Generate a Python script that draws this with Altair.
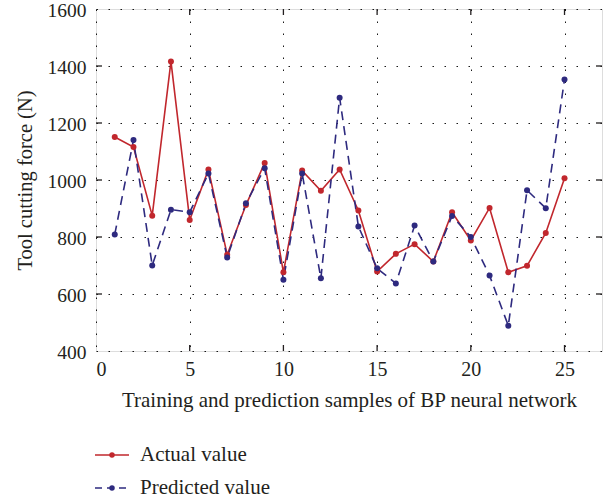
import altair as alt
import pandas as pd

samples = list(range(1, 26))
actual = [1151, 1116, 875, 1416, 860, 1037, 738, 912, 1060, 676,
          1033, 962, 1037, 893, 679, 741, 775, 714, 887, 788,
          902, 676, 699, 814, 1006]
predicted = [809, 1140, 700, 896, 887, 1023, 728, 918, 1041, 650,
             1023, 655, 1289, 837, 690, 637, 840, 714, 874, 800,
             665, 489, 964, 901, 1353]
series_names = ["Actual value", "Predicted value"]
x_ticks = [0, 5, 10, 15, 20, 25]
y_ticks = [400, 600, 800, 1000, 1200, 1400, 1600]

RED = "#c1272d"
BLUE = "#2e2a7f"
FONT = "Liberation Serif"
TXT = "#231f20"
W, H = 506, 342

df = pd.DataFrame({"sample": samples * 2,
                   "value": actual + predicted,
                   "series": [series_names[0]] * 25 + [series_names[1]] * 25})

xs = alt.Scale(domain=[0, 27], nice=False)
ys = alt.Scale(domain=[400, 1600], nice=False)

x_axis = alt.Axis(values=x_ticks, format="d", ticks=False, domain=False, grid=True,
                  gridDash=[1.5, 10.5], gridColor="#000", gridOpacity=0.9,
                  labelFontSize=20, labelFont=FONT, labelColor=TXT,
                  labelPadding=8, title="Training and prediction samples of BP neural network",
                  titleFont=FONT, titleFontSize=21, titleFontWeight="normal",
                  titleColor=TXT, titlePadding=10)
y_axis = alt.Axis(values=y_ticks, format="d", ticks=False, domain=False, grid=True,
                  gridDash=[1.5, 10.5], gridColor="#000", gridOpacity=0.9,
                  labelFontSize=19.5, labelFont=FONT, labelColor=TXT, labelOffset=1,
                  labelPadding=10, title="Tool cutting force (N)",
                  titleFont=FONT, titleFontSize=20.5, titleFontWeight="normal",
                  titleColor=TXT, titlePadding=12)

color = alt.Color("series:N", scale=alt.Scale(domain=series_names, range=[RED, BLUE]), legend=None)
X = alt.X("sample:Q", scale=xs, axis=x_axis)
Y = alt.Y("value:Q", scale=ys, axis=y_axis)

act = df[df.series == series_names[0]]
pre = df[df.series == series_names[1]]

line_act = alt.Chart(act).mark_line(strokeWidth=1.6).encode(x=X, y=Y, color=color)
line_pre = alt.Chart(pre).mark_line(strokeWidth=1.6, strokeDash=[9, 6]).encode(x=X, y=Y, color=color)
pts = alt.Chart(df).mark_circle(size=36, opacity=1).encode(x=X, y=Y, color=color)

# inward ticks
xt = pd.DataFrame({"sample": x_ticks[1:]})
yt = pd.DataFrame({"value": y_ticks[1:-1]})
tick_style = dict(color=TXT, strokeWidth=1.3)
tb = alt.Chart(xt).mark_rule(**tick_style).encode(x=X, y=alt.value(H), y2=alt.value(H - 6))
tt = alt.Chart(xt).mark_rule(**tick_style).encode(x=X, y=alt.value(0), y2=alt.value(6))
tl = alt.Chart(yt).mark_rule(**tick_style).encode(y=Y, x=alt.value(0), x2=alt.value(6))
tr = alt.Chart(yt).mark_rule(**tick_style).encode(y=Y, x=alt.value(W), x2=alt.value(W - 6))

# legend below the plot
leg_a = pd.DataFrame({"series": [series_names[0]]})
leg_p = pd.DataFrame({"series": [series_names[1]]})
legend_layers = []
for d, ly, dash in [(leg_a, 446, None), (leg_p, 479, [7, 5])]:
    kw = dict(strokeWidth=1.6)
    if dash:
        kw["strokeDash"] = dash
    legend_layers.append(alt.Chart(d).mark_rule(**kw).encode(
        x=alt.value(-1), x2=alt.value(33), y=alt.value(ly), color=color))
    legend_layers.append(alt.Chart(d).mark_circle(size=30, opacity=1).encode(
        x=alt.value(16), y=alt.value(ly), color=color))
    legend_layers.append(alt.Chart(d).mark_text(align="left", baseline="middle", font=FONT,
                                                fontSize=21, color=TXT).encode(
        x=alt.value(44), y=alt.value(ly), text="series:N"))

chart = alt.layer(line_act, line_pre, pts, tb, tt, tl, tr, *legend_layers).properties(
    width=W, height=H, autosize=alt.AutoSizeParams(type="none"),
    padding={"left": 96, "top": 9, "right": 14, "bottom": 153}
).configure_view(stroke=TXT, strokeWidth=1.5).configure(background="white")

chart.save("out.html", embed_options={"renderer": "svg", "actions": False})
